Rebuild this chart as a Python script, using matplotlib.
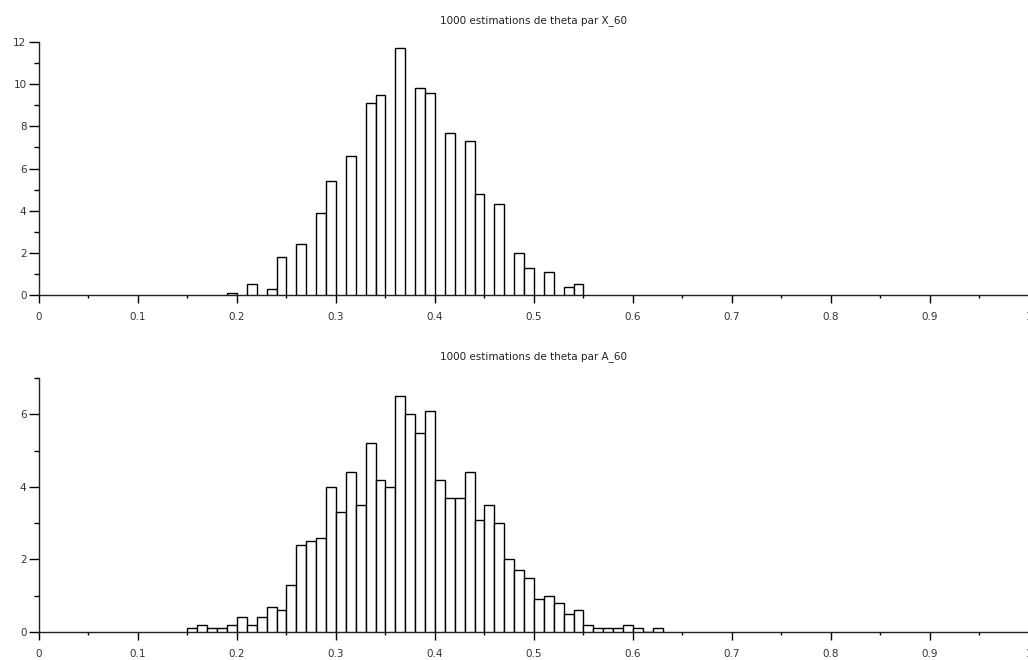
import numpy as np
import matplotlib.pyplot as plt
from matplotlib.ticker import MultipleLocator

# histogramme de X_60 (valeurs discretes k/60, classes de largeur 0.01)
x60_bins = [0.19, 0.21, 0.23, 0.24, 0.26, 0.28, 0.29, 0.31, 0.33, 0.34, 0.36,
            0.38, 0.39, 0.41, 0.43, 0.44, 0.46, 0.48, 0.49, 0.51, 0.53, 0.54]
x60_dens = [0.1, 0.5, 0.3, 1.8, 2.4, 3.9, 5.4, 6.6, 9.1, 9.5, 11.7,
            9.8, 9.6, 7.7, 7.3, 4.8, 4.3, 2.0, 1.3, 1.1, 0.4, 0.5]

# histogramme de A_60
a60_bins = [0.15, 0.16, 0.17, 0.18, 0.19, 0.20, 0.21, 0.22, 0.23, 0.24,
            0.25, 0.26, 0.27, 0.28, 0.29, 0.30, 0.31, 0.32, 0.33, 0.34,
            0.35, 0.36, 0.37, 0.38, 0.39, 0.40, 0.41, 0.42, 0.43, 0.44,
            0.45, 0.46, 0.47, 0.48, 0.49, 0.50, 0.51, 0.52, 0.53, 0.54,
            0.55, 0.56, 0.57, 0.58, 0.59, 0.60, 0.61, 0.62]
a60_dens = [0.1, 0.2, 0.1, 0.1, 0.2, 0.4, 0.2, 0.4, 0.7, 0.6,
            1.3, 2.4, 2.5, 2.6, 4.0, 3.3, 4.4, 3.5, 5.2, 4.2,
            4.0, 6.5, 6.0, 5.5, 6.1, 4.2, 3.7, 3.7, 4.4, 3.1,
            3.5, 3.0, 2.0, 1.7, 1.5, 0.9, 1.0, 0.8, 0.5, 0.6,
            0.2, 0.1, 0.1, 0.1, 0.2, 0.1, 0.0, 0.1]

bin_width = 0.01
xticks = [0, 0.1, 0.2, 0.3, 0.4, 0.5, 0.6, 0.7, 0.8, 0.9, 1]
xlabels = ["0", "0.1", "0.2", "0.3", "0.4", "0.5", "0.6", "0.7", "0.8", "0.9", "1"]

fig = plt.figure(figsize=(10.28, 6.6), dpi=100)
ax1 = fig.add_axes([0.0379, 0.553, 0.963, 0.3833])
ax2 = fig.add_axes([0.0379, 0.0425, 0.963, 0.3845])

panels = [
    (ax1, x60_bins, x60_dens, 12, 2, "1000 estimations de theta par X_60"),
    (ax2, a60_bins, a60_dens, 7, 2, "1000 estimations de theta par A_60"),
]

for ax, bins, dens, ymax, ystep, title in panels:
    ax.bar(bins, dens, width=bin_width, align="edge",
           color="white", edgecolor="black", linewidth=1.0, zorder=3)
    ax.set_xlim(0, 1)
    ax.set_ylim(0, ymax)
    ax.set_xticks(xticks)
    ax.set_xticklabels(xlabels)
    ax.xaxis.set_minor_locator(MultipleLocator(0.05))
    ax.yaxis.set_major_locator(MultipleLocator(ystep))
    ax.yaxis.set_minor_locator(MultipleLocator(1))
    for side in ["top", "right"]:
        ax.spines[side].set_visible(False)
    for side in ["left", "bottom"]:
        ax.spines[side].set_linewidth(1.0)
        ax.spines[side].set_color("#222222")
    ax.tick_params(axis="x", which="major", direction="out", length=6,
                   width=1, pad=6, labelsize=7.5, labelcolor="#333333")
    ax.tick_params(axis="x", which="minor", direction="out", length=2.5, width=1)
    ax.tick_params(axis="y", which="major", direction="out", length=7,
                   width=1, pad=2, labelsize=7.5, labelcolor="#333333")
    ax.tick_params(axis="y", which="minor", direction="out", length=3.5, width=1)
    ax.set_title(title, fontsize=7.5, color="#222222", pad=14)
    ax.spines["bottom"].set_clip_on(False)

fig.savefig("out.png", dpi=100)
